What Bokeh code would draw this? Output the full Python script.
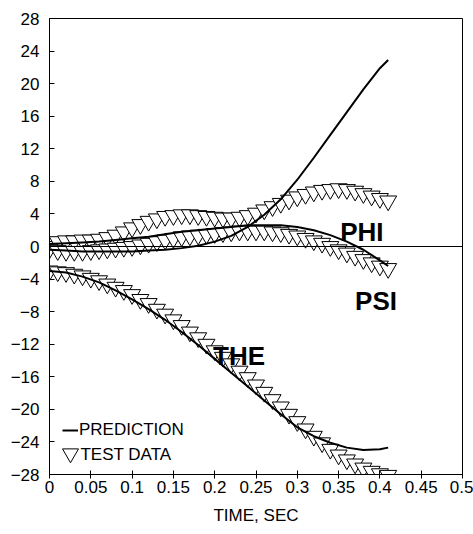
from bokeh.plotting import figure
from bokeh.models import Legend, LegendItem, Span, FixedTicker, ColumnDataSource, Label
from bokeh.embed import file_html
from bokeh.resources import INLINE
from bokeh.core.properties import value

# ---------------- data ----------------
t_pred = [0.00, 0.02, 0.04, 0.06, 0.08, 0.10, 0.12, 0.14, 0.16, 0.18, 0.20,
          0.22, 0.24, 0.26, 0.28, 0.30, 0.32, 0.34, 0.36, 0.38, 0.40, 0.41]
phi_pred = [-0.4, -0.5, -0.6, -0.6, -0.6, -0.6, -0.5, -0.4, -0.2, 0.1, 0.6,
            1.3, 2.4, 3.9, 5.8, 8.2, 10.9, 13.7, 16.5, 19.3, 21.9, 22.9]
psi_pred = [0.3, 0.4, 0.5, 0.6, 0.8, 1.0, 1.2, 1.5, 1.8, 2.0, 2.2,
            2.4, 2.6, 2.6, 2.6, 2.4, 2.0, 1.4, 0.6, -0.4, -1.7, -2.4]
the_pred = [-3.0, -3.2, -3.7, -4.4, -5.4, -6.5, -7.7, -9.0, -10.5, -12.1, -13.8,
            -15.5, -17.2, -18.9, -20.6, -22.2, -23.3, -24.1, -24.7, -25.0, -24.9, -24.7]

t_test = [0.00, 0.01, 0.02, 0.03, 0.04, 0.05, 0.06, 0.07, 0.08, 0.09,
          0.10, 0.11, 0.12, 0.13, 0.14, 0.15, 0.16, 0.17, 0.18, 0.19,
          0.20, 0.21, 0.22, 0.23, 0.24, 0.25, 0.26, 0.27, 0.28, 0.29,
          0.30, 0.31, 0.32, 0.33, 0.34, 0.35, 0.36, 0.37, 0.38, 0.39,
          0.40, 0.41]
phi_test = [0.0, 0.6, 0.7, 0.7, 0.8, 0.8, 0.9, 1.1, 1.4, 1.8,
            2.3, 2.7, 3.1, 3.4, 3.7, 3.8, 3.9, 3.9, 3.8, 3.7,
            3.6, 3.5, 3.5, 3.6, 3.8, 4.1, 4.5, 4.9, 5.3, 5.7,
            6.1, 6.4, 6.7, 6.9, 7.0, 7.1, 7.0, 6.8, 6.5, 6.2,
            5.9, 5.6]
psi_test = [-0.3, -0.5, -0.6, -0.6, -0.6, -0.5, -0.4, -0.3, -0.2, -0.1,
            0.0, 0.2, 0.4, 0.6, 0.8, 1.0, 1.2, 1.3, 1.4, 1.5,
            1.6, 1.7, 1.8, 1.9, 1.9, 1.9, 1.9, 1.8, 1.7, 1.5,
            1.3, 1.0, 0.7, 0.4, 0.0, -0.4, -0.8, -1.2, -1.6, -2.0,
            -2.4, -2.7]
the_test = [-3.0, -3.1, -3.2, -3.4, -3.6, -3.9, -4.2, -4.6, -5.0, -5.4,
            -5.9, -6.5, -7.0, -7.7, -8.3, -9.0, -9.7, -10.5, -11.2, -12.0,
            -12.8, -13.6, -14.4, -15.3, -16.1, -17.0, -17.9, -18.8, -19.7, -20.6,
            -21.5, -22.4, -23.3, -24.1, -24.9, -25.6, -26.2, -26.7, -27.2, -27.6,
            -27.9, -28.1]

x_ticks = [0, 0.05, 0.1, 0.15, 0.2, 0.25, 0.3, 0.35, 0.4, 0.45, 0.5]
x_tick_labels = ["0", "0.05", "0.1", "0.15", "0.2", "0.25", "0.3", "0.35", "0.4", "0.45", "0.5"]
y_ticks = [-28, -24, -20, -16, -12, -8, -4, 0, 4, 8, 12, 16, 20, 24, 28]

curve_names = ["PHI", "PSI", "THE"]
label_x = [0.352, 0.370, 0.198]
label_y = [1.8, -6.7, -13.4]

x_title = "TIME, SEC"
legend_labels = ["PREDICTION", "TEST DATA"]
test_label_pos = (0.0375, -25.6)   # where the "TEST DATA" legend text sits

# ---------------- figure ----------------
FONT = "Liberation Sans"

p = figure(width=473, height=534, x_range=(0, 0.5), y_range=(-28, 28),
           output_backend="svg", toolbar_location=None,
           min_border_left=49, min_border_right=11,
           min_border_top=18, min_border_bottom=60)
p.background_fill_color = "white"
p.border_fill_color = "white"
p.xgrid.visible = False
p.ygrid.visible = False
p.outline_line_color = "black"
p.outline_line_width = 1

# axes
p.xaxis.ticker = FixedTicker(ticks=x_ticks)
p.xaxis.major_label_overrides = {t: l for t, l in zip(x_ticks, x_tick_labels)}
p.yaxis.ticker = FixedTicker(ticks=y_ticks)
for ax in (p.xaxis[0], p.yaxis[0]):
    ax.axis_line_color = "black"
    ax.axis_line_width = 1
    ax.major_tick_line_color = "black"
    ax.minor_tick_line_color = None
    ax.major_label_text_font = FONT
    ax.major_label_text_font_size = "17px"
    ax.major_label_text_color = "black"
p.xaxis.major_tick_in = 4
p.xaxis.major_tick_out = 4
p.xaxis.major_label_standoff = 2
p.yaxis.major_tick_in = 5
p.yaxis.major_tick_out = 0
p.yaxis.major_label_standoff = 10
p.xaxis.axis_label = x_title
p.xaxis.axis_label_text_font = FONT
p.xaxis.axis_label_text_font_size = "17px"
p.xaxis.axis_label_text_font_style = "normal"
p.xaxis.axis_label_text_color = "black"
p.xaxis.axis_label_standoff = 10

# zero line
p.add_layout(Span(location=0, dimension="width", line_color="black", line_width=1))

# test data markers
marker_kw = dict(marker="inverted_triangle", size=17, fill_color="white",
                 line_color="black", line_width=1)
r_test = None
for ys in (phi_test, psi_test, the_test):
    r = p.scatter(x=t_test, y=ys, **marker_kw)
    if r_test is None:
        r_test = r

# prediction lines
r_pred = None
for ys in (phi_pred, psi_pred, the_pred):
    r = p.line(x=t_pred, y=ys, line_color="black", line_width=2)
    if r_pred is None:
        r_pred = r

# curve labels
src = ColumnDataSource(dict(x=label_x, y=label_y, text=curve_names))
p.text(x="x", y="y", text="text", source=src, text_font=value(FONT),
       text_font_size="26px", text_font_style="bold", text_color="black",
       text_align="left", text_baseline="middle")

# legends (two, so the marker sample can be drawn at full size)
common = dict(orientation="vertical", background_fill_alpha=0,
              border_line_color=None, padding=0, margin=0, spacing=0,
              label_text_font=FONT, label_text_font_size="17px",
              label_text_color="black")
legend_pred = Legend(items=[LegendItem(label=legend_labels[0], renderers=[r_pred])],
                     location=(13, 34), glyph_width=16, glyph_height=20,
                     label_height=20, label_standoff=1, **common)
legend_test = Legend(items=[LegendItem(label=" ", renderers=[r_test])],
                     location=(1, 1), glyph_width=40, glyph_height=40,
                     label_height=40, label_standoff=0, **common)
p.add_layout(legend_pred)
p.add_layout(legend_test)
p.add_layout(Label(x=test_label_pos[0], y=test_label_pos[1], text=legend_labels[1],
                   text_font=FONT, text_font_size="17px", text_color="black",
                   text_align="left", text_baseline="middle"))

open("out.html", "w").write(file_html(p, INLINE))
